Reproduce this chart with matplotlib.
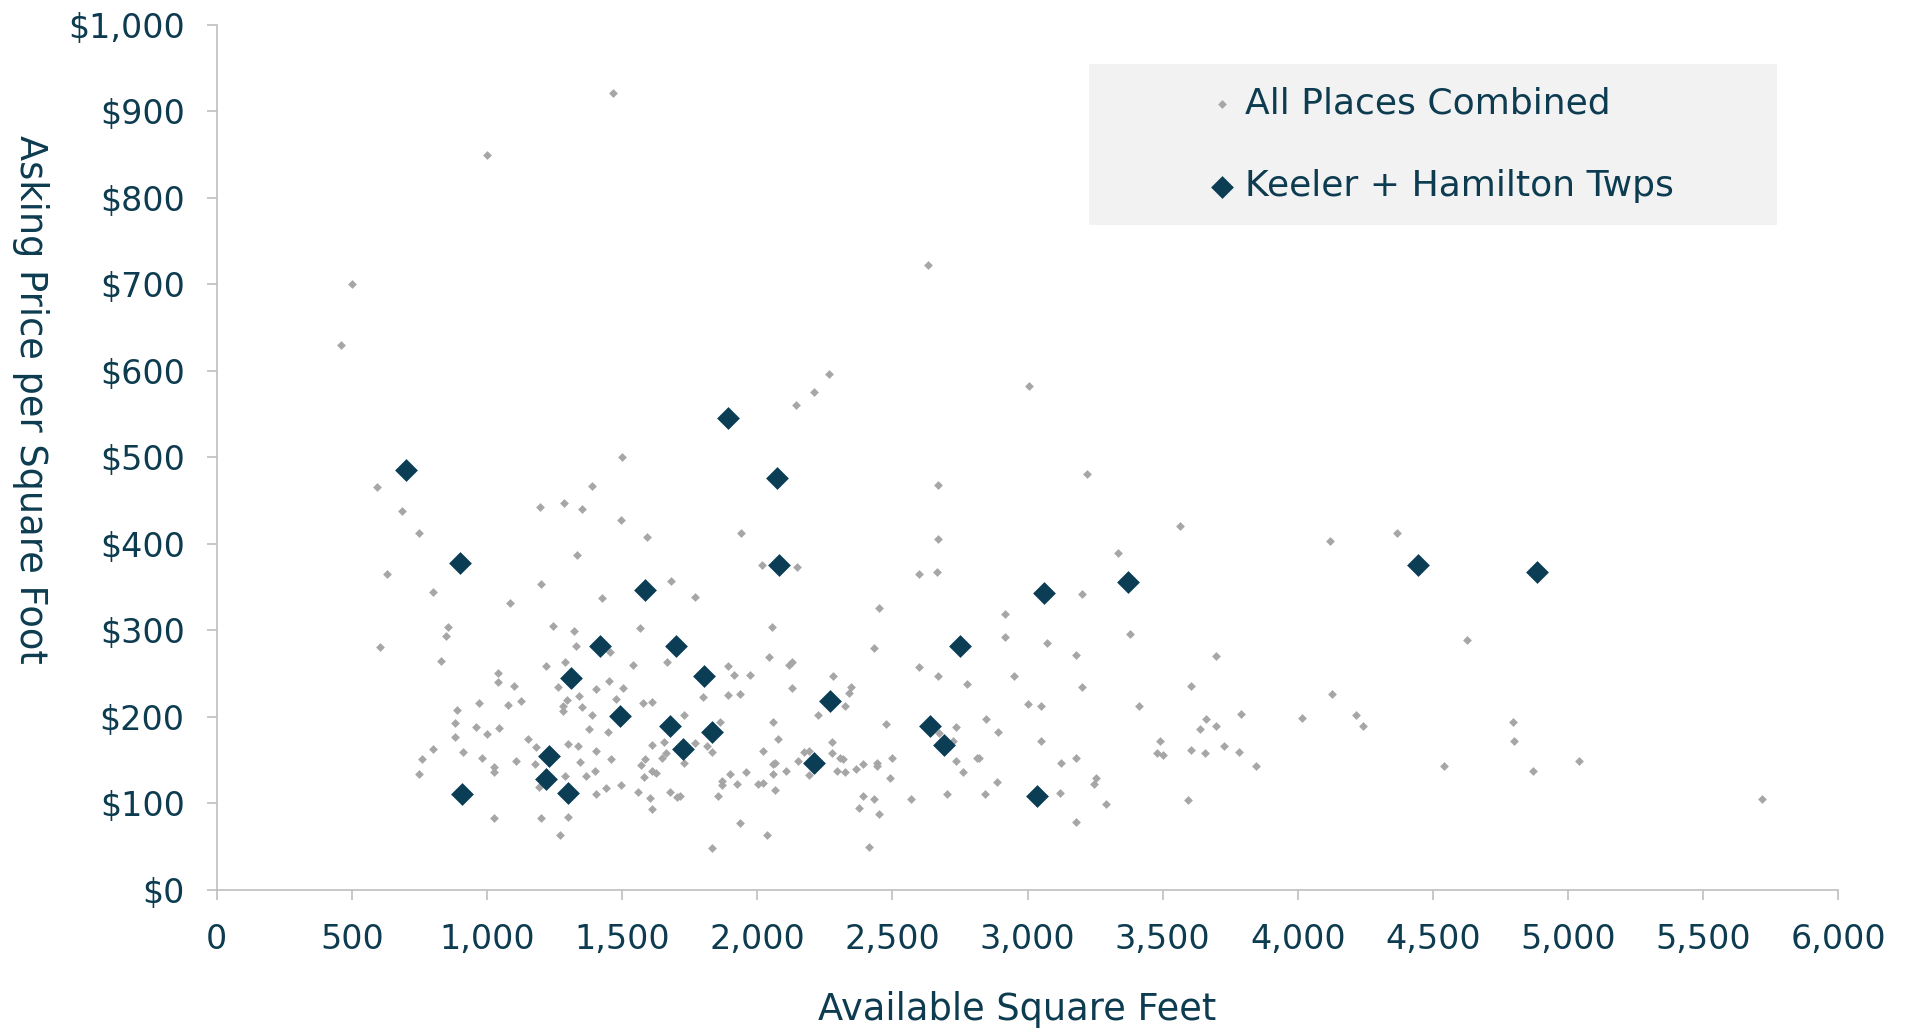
import matplotlib
matplotlib.use("Agg")
import matplotlib.pyplot as plt
from matplotlib.patches import Rectangle
from matplotlib.ticker import FuncFormatter, MultipleLocator

# All places combined (grey points)
all_sqft = [1466, 1001, 501, 461, 2631, 2265, 2211, 2142, 3005,
            592, 686, 750, 631, 801, 1086, 1201, 1332, 1196, 1286, 1352, 1390, 856, 850, 605, 831,
            1245, 1321, 1330, 1217, 1290, 1042, 1042, 1100, 1262, 1296, 1340, 1402, 972, 1077, 1126,
            1280, 1280, 1352, 1390, 890, 882, 961, 1001, 1046, 882, 1151, 1376, 801, 761, 910, 980,
            1025, 1025, 1106, 1177, 1180, 1300, 1336, 1345, 1402, 750, 1290, 1365, 1400, 1194, 1402,
            1026, 1201, 1301, 1270,
            1501, 1496, 1591, 1941, 2019, 2146, 1681, 1771, 1425, 1566, 2056, 1454, 1666, 1540, 2045,
            2119, 2128, 1890, 1915, 1975, 2280, 1451, 1504, 1476, 1800, 1890, 1936, 2130, 2347, 2341,
            2326, 2226, 1576, 1610, 1730, 1446, 1862, 2059, 2075, 2276, 1610, 1656, 1771, 1662, 1646,
            1813, 1831, 1460, 1586, 1730, 1570, 1612, 1625, 1582, 2021, 2057, 2067, 2059, 2106, 2174,
            2193, 2149, 2191, 2276, 2305, 2318, 2295, 2326, 2364, 2375, 1901, 1957, 1871, 1871, 1925,
            2004, 2020, 2065, 1856, 1440, 1496, 1560, 1602, 1610, 1679, 1702, 1716, 1937, 2036, 1831,
            3221, 2670, 2670, 2600, 2666, 3336, 3200, 2452, 2915, 2915, 3071, 3180, 2431, 2600, 2670,
            2775, 2951, 3201, 3000, 3050, 2476, 2735, 2845, 2891, 3050, 2674, 2723, 2735, 2760, 2812,
            2821, 2500, 2490, 2444, 2444, 2392, 3125, 3180, 2886, 3254, 3246, 3120, 3289, 3180, 2390,
            2432, 2452, 2570, 2702, 2841, 2412,
            3565, 4120, 4366, 3380, 3696, 4625, 3606, 4125, 3411, 3791, 3660, 3696, 3639, 4015, 4215,
            4241, 3490, 3480, 3500, 3606, 3655, 3726, 3781, 3846, 4542, 3595,
            4795, 4800, 5040, 4870, 5716]
all_price = [921, 850, 700, 630, 722, 596, 576, 560, 582,
             466, 438, 413, 365, 344, 332, 354, 387, 443, 447, 440, 467, 304, 294, 281, 265,
             305, 299, 282, 259, 264, 251, 240, 236, 234, 220, 224, 232, 216, 214, 218,
             212, 207, 211, 202, 208, 193, 188, 180, 187, 177, 174, 186, 163, 151, 159, 153,
             142, 136, 149, 146, 165, 169, 166, 148, 160, 134, 132, 132, 137, 119, 111,
             83, 83, 84, 63,
             500, 428, 408, 412, 376, 373, 357, 339, 337, 303, 304, 275, 264, 260, 269,
             260, 263, 259, 248, 248, 247, 242, 233, 221, 223, 225, 227, 233, 235, 228,
             213, 202, 216, 217, 202, 183, 194, 194, 174, 171, 168, 171, 170, 158, 152,
             166, 159, 151, 151, 147, 144, 137, 135, 130, 161, 146, 147, 134, 138, 159,
             161, 149, 133, 158, 152, 151, 138, 136, 140, 95, 134, 136, 126, 121, 123,
             123, 124, 116, 108, 118, 121, 113, 106, 93, 113, 107, 108, 77, 64, 49,
             481, 468, 406, 365, 367, 389, 342, 326, 319, 292, 285, 271, 280, 258, 247,
             238, 247, 235, 215, 213, 192, 188, 197, 182, 172, 181, 172, 149, 136, 153,
             153, 152, 129, 147, 143, 145, 147, 152, 125, 129, 122, 112, 99, 79, 109,
             105, 88, 105, 111, 111, 50,
             421, 403, 412, 296, 270, 289, 236, 226, 213, 203, 198, 190, 186, 199, 202,
             189, 172, 158, 156, 162, 158, 166, 159, 143, 143, 104,
             194, 172, 149, 138, 105]

# Keeler + Hamilton Twps (dark points)
kh_sqft = [700, 900, 906, 1217, 1231, 1300, 1310, 1420, 1491, 1586, 1679, 1700, 1725, 1802,
           1831, 1891, 2072, 2080, 2211, 2270, 2640, 2691, 2751, 3036, 3061, 3370, 4446, 4886]
kh_price = [485, 378, 111, 128, 155, 112, 245, 282, 201, 347, 190, 282, 163, 247,
            183, 545, 476, 375, 147, 218, 190, 168, 282, 109, 343, 356, 376, 368]

text_color = "#0D3B50"
dark = "#0B3D55"
grey = "#A6A6A6"

plt.rcParams["font.family"] = ["DejaVu Sans"]

fig = plt.figure(figsize=(19.09, 10.30), dpi=100)
ax = fig.add_axes([0.1135, 0.136, 0.8495, 0.840])

ax.scatter(all_sqft, all_price, marker="D", s=20, color=grey, linewidths=0,
           label="All Places Combined", zorder=2)
ax.scatter(kh_sqft, kh_price, marker="D", s=135, color=dark, linewidths=0,
           label="Keeler + Hamilton Twps", zorder=3)

ax.set_xlim(0, 6000)
ax.set_ylim(0, 1000)
ax.xaxis.set_major_locator(MultipleLocator(500))
ax.yaxis.set_major_locator(MultipleLocator(100))
ax.xaxis.set_major_formatter(FuncFormatter(lambda v, p: f"{v:,.0f}"))
ax.yaxis.set_major_formatter(FuncFormatter(lambda v, p: f"${v:,.0f}"))

for s in ["top", "right"]:
    ax.spines[s].set_visible(False)
for s in ["left", "bottom"]:
    ax.spines[s].set_color("#BFBFBF")
    ax.spines[s].set_linewidth(1.2)
ax.tick_params(colors="#BFBFBF", labelcolor=text_color, labelsize=24, length=7, width=1.2)
ax.tick_params(axis="x", pad=17)
ax.tick_params(axis="y", pad=16)

# axis titles
fig.text(0.533, 0.0097, "Available Square Feet", fontsize=26.5, color=text_color,
         ha="center", va="baseline")
fig.text(0.0162, 0.6126, "Asking Price per Square Foot", fontsize=26.5, color=text_color,
         ha="center", va="center", rotation=270)

# legend background box
ax.add_patch(Rectangle((0.538, 0.769), 0.424, 0.186, transform=ax.transAxes,
                       facecolor="#F2F2F2", edgecolor="none", zorder=4))
leg = ax.legend(loc="center left", bbox_to_anchor=(0.611, 0.861), fontsize=26,
                frameon=False, labelspacing=1.35, handlelength=0.8,
                handletextpad=0.25, borderpad=0, borderaxespad=0)
leg.set_zorder(5)
for t in leg.get_texts():
    t.set_color(text_color)

fig.savefig("out.png", dpi=100)
